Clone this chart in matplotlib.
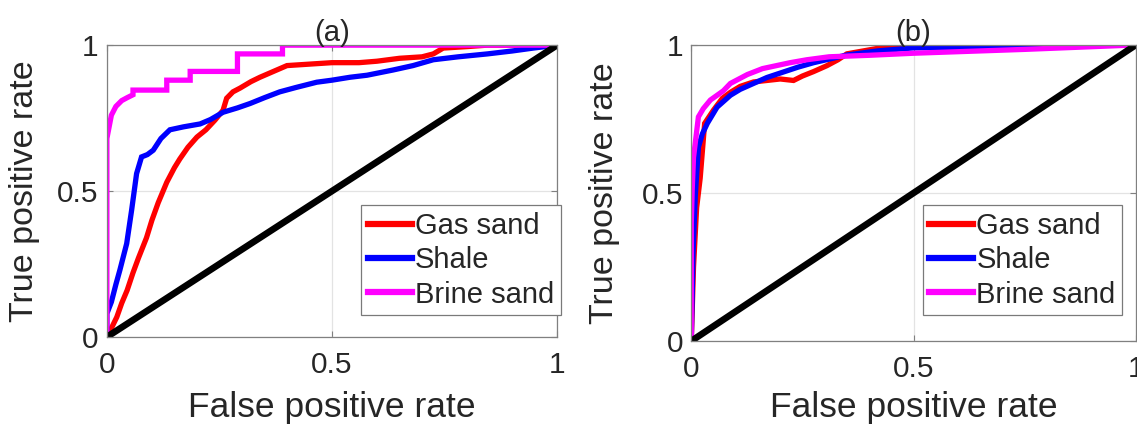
import matplotlib
matplotlib.use("Agg")
import matplotlib.pyplot as plt

plt.rcParams['font.family'] = ['Liberation Sans', 'DejaVu Sans']

# ROC curves, panel (a)
gas_a_fpr = [0, 0.01, 0.022, 0.033, 0.045, 0.058, 0.07, 0.088, 0.1, 0.114, 0.133, 0.15, 0.162, 0.18,
             0.2, 0.22, 0.24, 0.258, 0.266, 0.28, 0.296, 0.32, 0.34, 0.37, 0.40, 0.45, 0.50, 0.56,
             0.60, 0.65, 0.70, 0.725, 0.747, 0.80, 0.845, 1.0]
gas_a_tpr = [0, 0.03, 0.068, 0.116, 0.16, 0.22, 0.27, 0.34, 0.40, 0.46, 0.53, 0.58, 0.61, 0.65,
             0.685, 0.71, 0.743, 0.777, 0.818, 0.84, 0.853, 0.875, 0.89, 0.91, 0.93, 0.935, 0.94, 0.94,
             0.945, 0.955, 0.96, 0.97, 0.99, 0.995, 1.0, 1.0]

shale_a_fpr = [0, 0.0, 0.01, 0.02, 0.029, 0.044, 0.055, 0.066, 0.077, 0.09, 0.103, 0.12, 0.14, 0.17,
               0.207, 0.23, 0.258, 0.29, 0.318, 0.35, 0.384, 0.42, 0.466, 0.50, 0.54, 0.578, 0.636,
               0.68, 0.725, 0.78, 0.845, 0.90, 0.947, 1.0]
shale_a_tpr = [0, 0.08, 0.12, 0.18, 0.23, 0.32, 0.435, 0.56, 0.617, 0.625, 0.64, 0.68, 0.71, 0.72,
               0.73, 0.745, 0.77, 0.785, 0.80, 0.82, 0.84, 0.855, 0.873, 0.88, 0.89, 0.897, 0.915,
               0.93, 0.95, 0.96, 0.97, 0.98, 0.99, 1.0]

brine_a_fpr = [0, 0, 0.005, 0.01, 0.02, 0.033, 0.045, 0.058, 0.058, 0.133, 0.133, 0.185, 0.185,
               0.29, 0.29, 0.39, 0.39, 1.0]
brine_a_tpr = [0, 0.68, 0.72, 0.76, 0.79, 0.81, 0.82, 0.83, 0.846, 0.846, 0.88, 0.88, 0.91,
               0.91, 0.97, 0.97, 1.0, 1.0]

# ROC curves, panel (b)
gas_b_fpr = [0, 0.005, 0.012, 0.02, 0.03, 0.05, 0.07, 0.088, 0.11, 0.14, 0.17, 0.2, 0.23, 0.25,
             0.275, 0.305, 0.33, 0.35, 0.425, 0.5, 1.0]
gas_b_tpr = [0, 0.25, 0.45, 0.55, 0.735, 0.78, 0.82, 0.84, 0.86, 0.875, 0.88, 0.885, 0.88, 0.895,
             0.91, 0.93, 0.95, 0.97, 0.99, 1.0, 1.0]

shale_b_fpr = [0, 0.004, 0.009, 0.016, 0.025, 0.036, 0.058, 0.088, 0.11, 0.14, 0.17, 0.20, 0.24,
               0.275, 0.35, 0.42, 0.5, 0.75, 1.0]
shale_b_tpr = [0, 0.30, 0.49, 0.655, 0.70, 0.735, 0.79, 0.83, 0.85, 0.87, 0.89, 0.905, 0.925,
               0.94, 0.966, 0.98, 0.99, 0.995, 1.0]

brine_b_fpr = [0, 0.0, 0.002, 0.005, 0.016, 0.027, 0.043, 0.058, 0.072, 0.088, 0.126, 0.16, 0.222,
               0.26, 0.31, 0.40, 0.50, 0.75, 1.0]
brine_b_tpr = [0, 0.40, 0.51, 0.62, 0.757, 0.785, 0.814, 0.83, 0.845, 0.87, 0.90, 0.92, 0.94,
               0.95, 0.96, 0.965, 0.972, 0.985, 1.0]

chance = [0, 1]

labels = ["Gas sand", "Shale", "Brine sand"]
ticks = [0, 0.5, 1]
tick_labels = ["0", "0.5", "1"]

text_color = "#262626"
spine_color = "#808080"

fig = plt.figure(figsize=(11.37, 4.26), dpi=100)
ax_a = fig.add_axes([0.094, 0.209, 0.396, 0.685])
ax_b = fig.add_axes([0.608, 0.1995, 0.391, 0.695])

panels = [
    (ax_a, "(a)", (gas_a_fpr, gas_a_tpr), (shale_a_fpr, shale_a_tpr), (brine_a_fpr, brine_a_tpr),
     (1.008, 0.075), (-0.149, 0.5), (0.5, -0.185)),
    (ax_b, "(b)", (gas_b_fpr, gas_b_tpr), (shale_b_fpr, shale_b_tpr), (brine_b_fpr, brine_b_tpr),
     (0.969, 0.088), (-0.16, 0.5), (0.5, -0.17)),
]

for ax, title, gas, shale, brine, leg_anchor, ylab_xy, xlab_xy in panels:
    ax.plot(gas[0], gas[1], color="#ff0000", lw=3.8, label=labels[0], solid_joinstyle="miter")
    ax.plot(shale[0], shale[1], color="#0000ff", lw=3.8, label=labels[1], solid_joinstyle="miter")
    ax.plot(brine[0], brine[1], color="#ff00ff", lw=3.8, label=labels[2], solid_joinstyle="miter")
    ax.plot(chance, chance, color="black", lw=4.8)

    ax.set_xlim(0, 1)
    ax.set_ylim(0, 1)
    ax.set_xticks(ticks)
    ax.set_yticks(ticks)
    ax.set_xticklabels(tick_labels)
    ax.set_yticklabels(tick_labels)
    ax.grid(True, color="#e3e3e3", lw=0.9)
    ax.set_axisbelow(True)
    ax.tick_params(axis="both", direction="in", length=4, width=0.8, color=spine_color,
                   labelsize=21.5, labelcolor=text_color, top=True, right=True)
    ax.tick_params(axis="x", pad=10)
    ax.tick_params(axis="y", pad=6)
    for s in ax.spines.values():
        s.set_color(spine_color)
        s.set_linewidth(0.9)

    ax.set_title(title, fontsize=21, color=text_color, pad=3)
    ax.set_xlabel("False positive rate", fontsize=25.5, color=text_color)
    ax.set_ylabel("True positive rate", fontsize=24.5, color=text_color)
    ax.xaxis.set_label_coords(*xlab_xy)
    ax.yaxis.set_label_coords(*ylab_xy)

    leg = ax.legend(loc="lower right", bbox_to_anchor=leg_anchor, borderaxespad=0,
                    fontsize=21, handlelength=1.5, handletextpad=0.12, labelspacing=0.22,
                    borderpad=0.22, fancybox=False, framealpha=1, edgecolor="#7a7a7a")
    leg.get_frame().set_linewidth(0.9)
    for t in leg.get_texts():
        t.set_color(text_color)
    for h in leg.get_lines():
        h.set_linewidth(4.5)

fig.savefig("out.png", dpi=100, facecolor="white")
